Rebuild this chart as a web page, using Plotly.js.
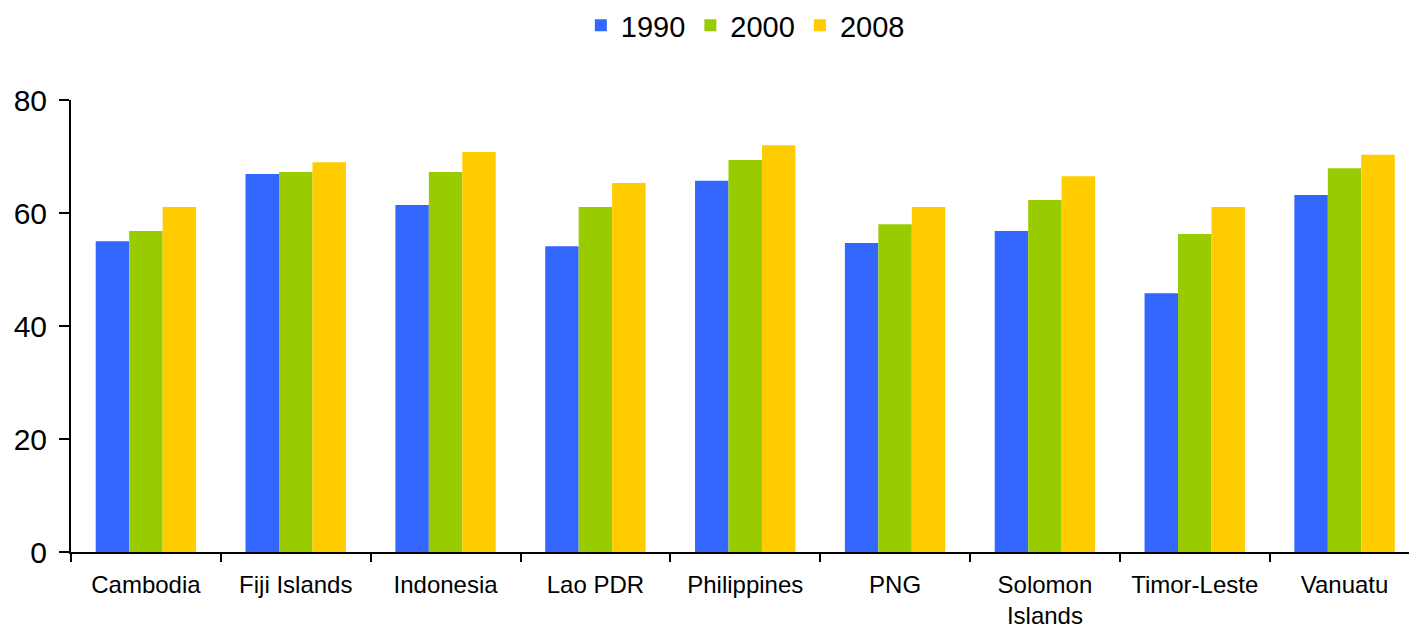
<!DOCTYPE html>
<html>
<head>
<meta charset="utf-8">
<script src="https://cdn.plot.ly/plotly-3.0.1.min.js"></script>
<style>html,body{margin:0;padding:0;background:#fff;}#chart{width:1409px;height:637px;}</style>
</head>
<body>
<div id="chart"></div>
<script>
const categories = ["Cambodia", "Fiji Islands", "Indonesia", "Lao PDR", "Philippines", "PNG", "Solomon<br>Islands", "Timor-Leste", "Vanuatu"];
const years = ["1990", "2000", "2008"];
const v1990 = [55.0, 66.9, 61.4, 54.1, 65.7, 54.7, 56.8, 45.8, 63.2];
const v2000 = [56.8, 67.25, 67.25, 61.05, 69.4, 58.0, 62.3, 56.3, 67.9];
const v2008 = [61.05, 69.0, 70.8, 65.3, 72.0, 61.05, 66.5, 61.05, 70.3];
const colors = ["#3366FF", "#99CC00", "#FFCC00"];
const yTicks = [0, 20, 40, 60, 80];

const series = [v1990, v2000, v2008];
const traces = series.map((vals, i) => ({
  type: "bar",
  name: years[i],
  x: categories,
  y: vals,
  marker: {color: colors[i], line: {width: 0}},
  hoverinfo: "x+y+name"
}));

const font = {family: "Liberation Sans, Arial, sans-serif", color: "#000"};
const layout = {
  width: 1409, height: 637,
  margin: {l: 71, r: 0, t: 100, b: 85},
  paper_bgcolor: "#fff", plot_bgcolor: "#fff",
  barmode: "group", bargap: 0.33, bargroupgap: 0,
  font: Object.assign({size: 24}, font),
  showlegend: true,
  legend: {orientation: "h", x: 0.504, xanchor: "center", y: 1.0, yanchor: "top", yref: "container",
           font: Object.assign({size: 29}, font), itemwidth: 30, traceorder: "normal"},
  xaxis: {
    type: "category",
    range: [-0.5, 8.43],
    showline: true, linecolor: "#000", linewidth: 2,
    ticks: "outside", tickson: "boundaries", ticklen: 8, tickwidth: 2, tickcolor: "#000",
    showgrid: false, zeroline: false,
    tickfont: Object.assign({size: 24}, font),
    ticklabelstandoff: 10,
    fixedrange: true
  },
  yaxis: {
    range: [0, 80],
    tickvals: yTicks,
    ticktext: yTicks.map(String),
    showline: true, linecolor: "#000", linewidth: 2,
    ticks: "outside", ticklen: 10, tickwidth: 2, tickcolor: "#000",
    showgrid: false, zeroline: false,
    tickfont: Object.assign({size: 30}, font),
    ticklabelstandoff: 6,
    fixedrange: true
  }
};

Plotly.newPlot("chart", traces, layout, {displayModeBar: false, staticPlot: true});
</script>
</body>
</html>
